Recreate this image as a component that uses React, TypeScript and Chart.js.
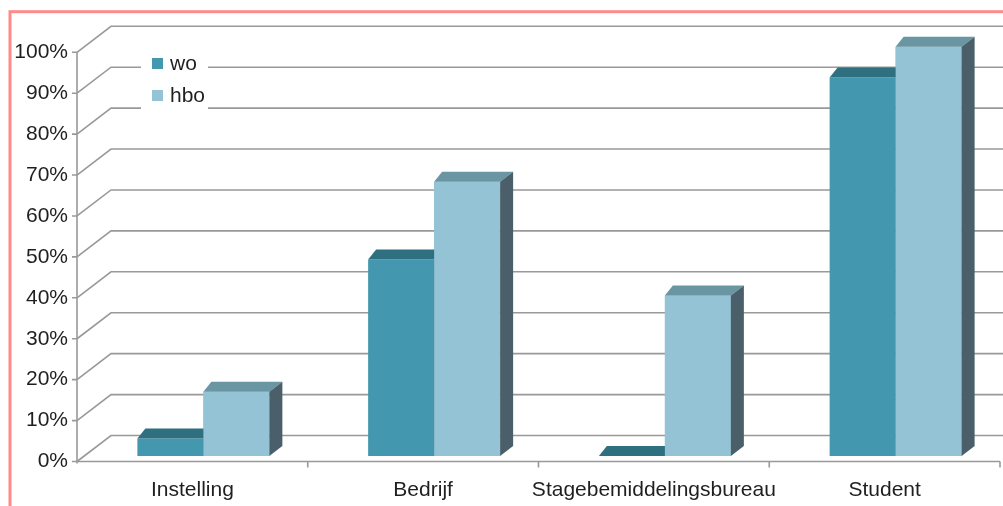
import React, { useEffect, useRef } from "react";
import { Chart, registerables } from "chart.js";

Chart.register(...registerables);

const categories = ["Instelling", "Bedrijf", "Stagebemiddelingsbureau", "Student"];
const seriesLabels = ["wo", "hbo"];
const woValues = [4.3, 48, 0, 92.5];
const hboValues = [15.7, 67, 39.2, 100];
const yTickValues = [0, 10, 20, 30, 40, 50, 60, 70, 80, 90, 100];

const FRONT = ["#4397AE", "#93C3D4"];
const TOP = ["#2E6F80", "#6A95A2"];
const SIDE = ["#2F5E6C", "#4A5F69"];
const GRID = "#999999";
const TEXT = "#1f1f1f";
const FONT = "Liberation Sans";

const BAR_SHIFT = { x: 11, y: -5.5 };
const WALL = { x: 34, y: -26 };
const DEPTH = { xl: 8, xr: 13, y: -10 };

const threeD = {
  id: "threeD",
  beforeDraw(chart: any) {
    const { ctx, chartArea: a } = chart;
    const y = chart.scales.y;
    const x = chart.scales.x;
    ctx.save();
    ctx.fillStyle = "#ffffff";
    ctx.fillRect(0, 0, chart.width, chart.height);

    // outer pink frame
    ctx.strokeStyle = "#FF8A8A";
    ctx.lineWidth = 3;
    ctx.strokeRect(10, 11.7, 1200, 700);

    // back wall gridlines with side-wall diagonals
    ctx.strokeStyle = GRID;
    ctx.lineWidth = 1.6;
    for (const t of yTickValues) {
      const py = y.getPixelForValue(t);
      ctx.beginPath();
      ctx.moveTo(a.left, py);
      ctx.lineTo(a.left + WALL.x, py + WALL.y);
      ctx.lineTo(chart.width + 50, py + WALL.y);
      ctx.stroke();
    }

    // front vertical axis with ticks
    ctx.beginPath();
    ctx.moveTo(a.left, a.top);
    ctx.lineTo(a.left, a.bottom + 2);
    for (const t of yTickValues) {
      const py = y.getPixelForValue(t);
      ctx.moveTo(a.left - 5, py);
      ctx.lineTo(a.left, py);
    }
    // floor front edge with category ticks
    ctx.moveTo(a.left, a.bottom);
    ctx.lineTo(a.right, a.bottom);
    const step = x.getPixelForValue(1) - x.getPixelForValue(0);
    for (let i = 0; i < categories.length; i++) {
      const bx = x.getPixelForValue(i) + step / 2;
      ctx.moveTo(bx, a.bottom);
      ctx.lineTo(bx, a.bottom + 6);
    }
    ctx.stroke();

    // legend
    ctx.fillStyle = "#ffffff";
    ctx.fillRect(141, 44, 67, 72);
    const legendY = [64, 96];
    chart.data.datasets.forEach((ds: any, i: number) => {
      ctx.fillStyle = FRONT[i];
      ctx.fillRect(152, legendY[i] - 6, 11, 11);
      ctx.fillStyle = TEXT;
      ctx.font = `21px "${FONT}"`;
      ctx.textBaseline = "middle";
      ctx.textAlign = "left";
      ctx.fillText(ds.label, 170, legendY[i]);
    });
    ctx.restore();
  },
  beforeDatasetsDraw(chart: any) {
    chart.ctx.save();
    chart.ctx.translate(BAR_SHIFT.x, BAR_SHIFT.y);
  },
  afterDatasetsDraw(chart: any) {
    const ctx = chart.ctx;
    const n = chart.data.datasets.length;
    for (let i = 0; i < n; i++) {
      const meta = chart.getDatasetMeta(i);
      for (const bar of meta.data) {
        // redraw front faces of later series so they cover earlier series' side faces
        if (i > 0) bar.draw(ctx);
        const p = bar.getProps(["x", "y", "base", "width"], true);
        const xl = p.x - p.width / 2;
        const xr = p.x + p.width / 2;
        const top = p.y;
        const base = p.base;
        ctx.fillStyle = TOP[i];
        ctx.beginPath();
        ctx.moveTo(xl, top);
        ctx.lineTo(xr, top);
        ctx.lineTo(xr + DEPTH.xr, top + DEPTH.y);
        ctx.lineTo(xl + DEPTH.xl, top + DEPTH.y);
        ctx.closePath();
        ctx.fill();
        if (base - top > 0.5) {
          ctx.fillStyle = SIDE[i];
          ctx.beginPath();
          ctx.moveTo(xr, top);
          ctx.lineTo(xr + DEPTH.xr, top + DEPTH.y);
          ctx.lineTo(xr + DEPTH.xr, base + DEPTH.y);
          ctx.lineTo(xr, base);
          ctx.closePath();
          ctx.fill();
        }
      }
    }
    ctx.restore();
  },
};

export default function App() {
  const ref = useRef<HTMLCanvasElement | null>(null);
  useEffect(() => {
    if (!ref.current) return;
    const chart = new Chart(ref.current, {
      type: "bar",
      data: {
        labels: categories,
        datasets: [
          { label: seriesLabels[0], data: woValues, backgroundColor: FRONT[0], borderWidth: 0, clip: false as any },
          { label: seriesLabels[1], data: hboValues, backgroundColor: FRONT[1], borderWidth: 0, clip: false as any },
        ],
      },
      options: {
        responsive: false,
        animation: false,
        devicePixelRatio: 1,
        layout: { padding: { left: 8, right: 3, top: 52.3, bottom: 0 } },
        datasets: { bar: { categoryPercentage: 0.572, barPercentage: 1 } },
        plugins: { legend: { display: false }, tooltip: { enabled: false } },
        scales: {
          x: {
            grid: { display: false, drawTicks: false },
            border: { display: false },
            ticks: {
              color: TEXT,
              font: { family: FONT, size: 21 },
              padding: 16,
              maxRotation: 0,
              autoSkip: false,
            },
            afterFit: (s: any) => {
              s.height = 44.5;
            },
          },
          y: {
            min: 0,
            max: 100,
            grid: { display: false, drawTicks: false },
            border: { display: false },
            ticks: {
              stepSize: 10,
              color: TEXT,
              font: { family: FONT, size: 21 },
              padding: 9,
              callback: (v: any) => `${v}%`,
            },
            afterFit: (s: any) => {
              s.width = 69;
            },
          },
        },
      },
      plugins: [threeD],
    });
    return () => chart.destroy();
  }, []);
  return (
    <canvas
      ref={ref}
      width={1003}
      height={506}
      style={{ position: "absolute", left: 0, top: 0, width: 1003, height: 506 }}
    />
  );
}
